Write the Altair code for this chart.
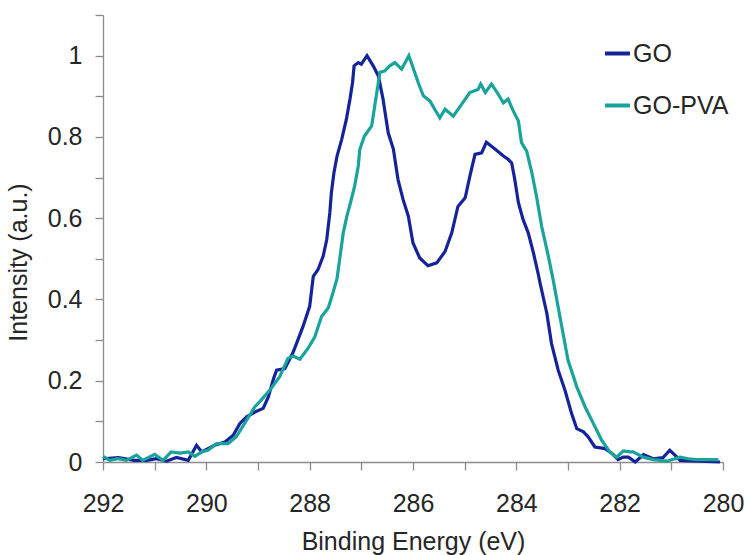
import altair as alt
import pandas as pd

# ---- data ----
go_x = [292.0, 291.7, 291.4, 291.15, 290.97, 290.77, 290.58, 290.35, 290.19, 290.09,
        289.97, 289.84, 289.64, 289.48, 289.35, 289.22, 289.06, 288.9, 288.8, 288.7,
        288.64, 288.48, 288.32, 288.13, 288.0, 287.93, 287.84, 287.74, 287.67, 287.61,
        287.58, 287.53, 287.47, 287.38, 287.29, 287.22, 287.17, 287.14, 287.06, 287.0,
        286.89, 286.77, 286.67, 286.58, 286.48, 286.38, 286.29, 286.19, 286.09, 286.0,
        285.87, 285.71, 285.54, 285.38, 285.25, 285.13, 284.99, 284.9, 284.8, 284.67,
        284.58, 284.42, 284.25, 284.16, 284.09, 284.03, 283.96, 283.87, 283.77, 283.67,
        283.58, 283.54, 283.41, 283.32, 283.19, 283.06, 282.93, 282.83, 282.7, 282.61,
        282.48, 282.28, 282.15, 282.03, 281.93, 281.83, 281.7, 281.54, 281.35, 281.16,
        281.03, 280.93, 280.83, 280.45, 280.06]
go_y = [0.008, 0.011, 0.004, 0.004, 0.008, 0.002, 0.011, 0.004, 0.041, 0.025,
        0.033, 0.041, 0.049, 0.066, 0.095, 0.111, 0.123, 0.132, 0.16, 0.205,
        0.226, 0.23, 0.27, 0.333, 0.383, 0.457, 0.473, 0.506, 0.547, 0.613,
        0.662, 0.712, 0.753, 0.794, 0.843, 0.893, 0.934, 0.975, 0.983, 0.979,
        1.0, 0.975, 0.95, 0.893, 0.81, 0.77, 0.695, 0.645, 0.605, 0.539,
        0.502, 0.483, 0.49, 0.518, 0.564, 0.629, 0.65, 0.703, 0.757, 0.761,
        0.787, 0.771, 0.753, 0.745, 0.736, 0.695, 0.638, 0.597, 0.564, 0.515,
        0.465, 0.44, 0.366, 0.292, 0.226, 0.177, 0.119, 0.082, 0.074, 0.062,
        0.037, 0.033, 0.021, 0.006, 0.012, 0.012, 0.0, 0.018, 0.008, 0.011,
        0.029, 0.017, 0.004, 0.002, 0.0]

pva_x = [292.0, 291.87, 291.71, 291.55, 291.35, 291.23, 291.0, 290.84, 290.68, 290.51,
         290.35, 290.22, 290.09, 289.97, 289.8, 289.58, 289.42, 289.22, 289.06, 288.97,
         288.77, 288.58, 288.42, 288.32, 288.19, 288.03, 287.9, 287.77, 287.64, 287.55,
         287.47, 287.42, 287.35, 287.28, 287.21, 287.13, 287.06, 287.03, 286.94, 286.8,
         286.72, 286.64, 286.55, 286.45, 286.35, 286.22, 286.08, 286.0, 285.9, 285.8,
         285.67, 285.58, 285.48, 285.38, 285.22, 285.06, 284.9, 284.74, 284.69, 284.6,
         284.48, 284.35, 284.25, 284.16, 284.06, 283.96, 283.9, 283.8, 283.7, 283.61,
         283.51, 283.38, 283.29, 283.12, 283.0, 282.83, 282.67, 282.51, 282.35, 282.19,
         282.06, 281.93, 281.8, 281.74, 281.54, 281.35, 281.09, 280.83, 280.67, 280.51,
         280.09]
pva_y = [0.014, 0.004, 0.008, 0.004, 0.017, 0.004, 0.019, 0.004, 0.025, 0.022,
         0.025, 0.014, 0.025, 0.029, 0.045, 0.045, 0.062, 0.103, 0.136, 0.148,
         0.177, 0.21, 0.255, 0.261, 0.253, 0.28, 0.308, 0.358, 0.379, 0.416,
         0.452, 0.498, 0.564, 0.605, 0.638, 0.679, 0.728, 0.769, 0.802, 0.827,
         0.893, 0.959, 0.962, 0.975, 0.983, 0.967, 1.0, 0.971, 0.934, 0.901,
         0.888, 0.868, 0.847, 0.868, 0.851, 0.88, 0.909, 0.917, 0.93, 0.909,
         0.93, 0.905, 0.884, 0.893, 0.864, 0.839, 0.786, 0.765, 0.712, 0.654,
         0.58, 0.506, 0.45, 0.333, 0.251, 0.185, 0.136, 0.095, 0.054, 0.025,
         0.012, 0.027, 0.025, 0.025, 0.012, 0.006, 0.002, 0.012, 0.008, 0.006,
         0.006]

series = ["GO", "GO-PVA"]
colors = ["#15239a", "#1aa39b"]
x_ticks = list(range(280, 293))
y_ticks = [round(i * 0.1, 1) for i in range(12)]

rows = []
for i, (x, y) in enumerate(zip(go_x, go_y)):
    rows.append({"energy": x, "intensity": y, "sample": "GO", "i": i})
for i, (x, y) in enumerate(zip(pva_x, pva_y)):
    rows.append({"energy": x, "intensity": y, "sample": "GO-PVA", "i": i})
df = pd.DataFrame(rows)

FONT = "Liberation Sans"
AXIS_COLOR = "#8c8c8c"
TEXT_COLOR = "#262626"

chart = alt.Chart(df).mark_line(strokeWidth=3.2, interpolate="linear").encode(
    x=alt.X("energy:Q",
            scale=alt.Scale(domain=[292, 280], nice=False, zero=False),
            axis=alt.Axis(title="Binding Energy (eV)", values=x_ticks,
                          labelExpr="datum.value % 2 == 0 ? datum.label : ''",
                          grid=False, tickSize=8, labelPadding=21,
                          titlePadding=13, labelFlush=False,
                          domainColor=AXIS_COLOR, tickColor=AXIS_COLOR,
                          domainWidth=1.3, tickWidth=1.3,
                          labelFont=FONT, titleFont=FONT, labelFontSize=25,
                          titleFontSize=25, labelColor=TEXT_COLOR,
                          titleColor=TEXT_COLOR, titleFontWeight="normal")),
    y=alt.Y("intensity:Q",
            scale=alt.Scale(domain=[0, 1.1], nice=False, zero=True),
            axis=alt.Axis(title="Intensity (a.u.)", values=y_ticks,
                          labelExpr="(round(datum.value*10) % 2 == 0 && datum.value < 1.05) ? format(datum.value, '~g') : ''",
                          grid=False, tickSize=8, labelPadding=13,
                          titleX=-85, titleY=247, titleBaseline="middle",
                          titleAlign="center", labelFlush=False,
                          domainColor=AXIS_COLOR, tickColor=AXIS_COLOR,
                          domainWidth=1.3, tickWidth=1.3,
                          labelFont=FONT, titleFont=FONT, labelFontSize=25,
                          titleFontSize=25, labelColor=TEXT_COLOR,
                          titleColor=TEXT_COLOR, titleFontWeight="normal")),
    color=alt.Color("sample:N",
                    scale=alt.Scale(domain=series, range=colors),
                    legend=alt.Legend(title=None, orient="none", legendX=500, legendY=24,
                                      symbolType="stroke", symbolSize=625,
                                      symbolStrokeWidth=4, labelFontSize=25,
                                      labelFont=FONT, labelColor=TEXT_COLOR,
                                      rowPadding=24, labelOffset=1, padding=0)),
    order="i:Q",
).properties(
    width=620,
    height=447,
    background="white",
    autosize=alt.AutoSizeParams(type="none"),
    padding={"left": 103, "top": 15, "right": 23, "bottom": 93},
).configure_view(
    stroke=None
)

chart.save("out.html", embed_options={"renderer": "svg", "actions": False})
